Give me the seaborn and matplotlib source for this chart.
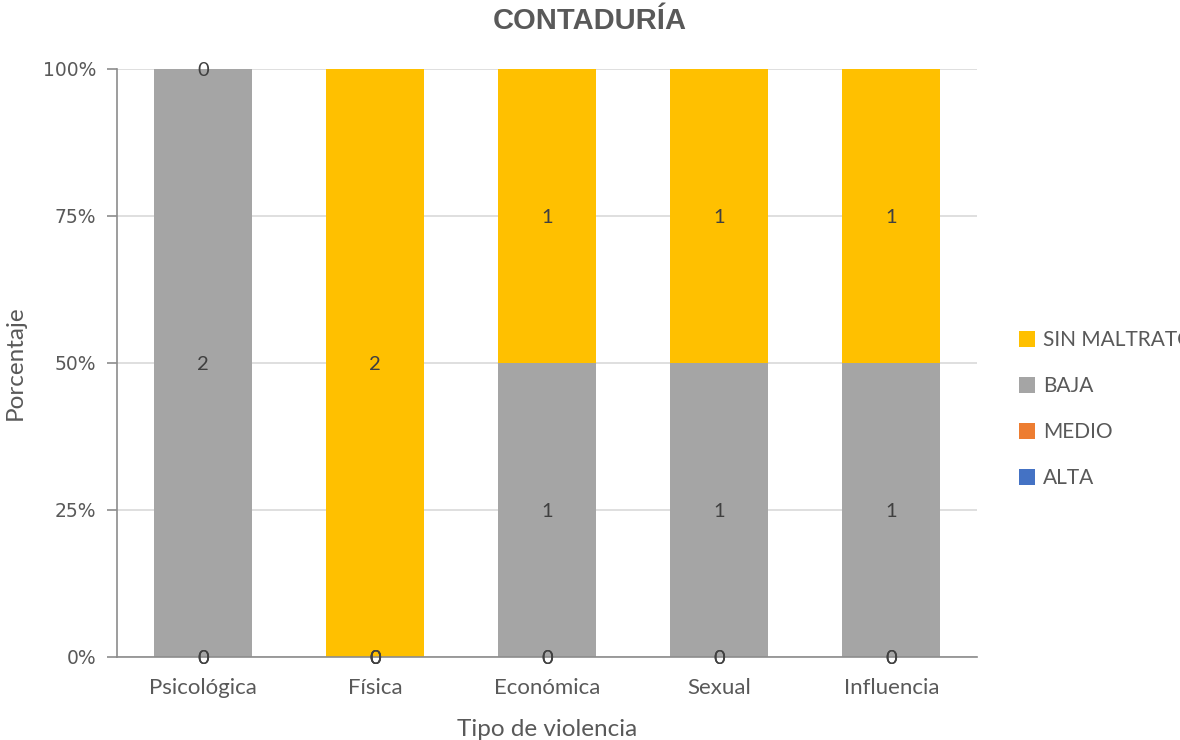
import numpy as np
import pandas as pd
import matplotlib
matplotlib.use("Agg")
import matplotlib.pyplot as plt
from matplotlib.patches import Patch
from matplotlib.ticker import PercentFormatter
import seaborn as sns

# Counts per violence type, stacked bottom-to-top: ALTA, MEDIO, BAJA, SIN MALTRATO
categories = ["Psicológica", "Física", "Económica", "Sexual", "Influencia"]
alta = [0, 0, 0, 0, 0]
medio = [0, 0, 0, 0, 0]
baja = [2, 0, 1, 1, 1]
sin_maltrato = [0, 2, 1, 1, 1]

series_names = ["ALTA", "MEDIO", "BAJA", "SIN MALTRATO"]
series_colors = ["#4472C4", "#ED7D31", "#A5A5A5", "#FFC000"]

df = pd.DataFrame({"ALTA": alta, "MEDIO": medio, "BAJA": baja,
                   "SIN MALTRATO": sin_maltrato}, index=categories)
share = df.div(df.sum(axis=1), axis=0)
cum = share.cumsum(axis=1)
lower = cum - share

sns.set_theme(style="white")
plt.rcParams["font.family"] = ["DejaVu Sans"]

fig = plt.figure(figsize=(11.8, 7.4), dpi=100)
ax = fig.add_axes([0.0992, 0.1122, 0.7290, 0.7946])

# cumulative bars, top series first so lower series sit over them
for name, color in reversed(list(zip(series_names, series_colors))):
    sns.barplot(x=categories, y=cum[name].values, color=color, width=0.57,
                saturation=1, ax=ax, zorder=2, edgecolor="none")

# value labels at the middle of each segment
for i, cat in enumerate(categories):
    for name in series_names:
        ymid = lower.loc[cat, name] + share.loc[cat, name] / 2
        ax.text(i, ymid, f"{df.loc[cat, name]}", ha="center",
                va="center_baseline", fontsize=14.5, color="#404040",
                family="Lato", zorder=5)

ax.set_xlim(-0.5, 4.5)
ax.set_ylim(0, 1)
ax.yaxis.set_major_formatter(PercentFormatter(1.0, decimals=0))
ax.set_yticks([0, 0.25, 0.5, 0.75, 1.0])
ax.yaxis.grid(True, color="#D9D9D9", linewidth=1.2, zorder=0)
ax.set_axisbelow(True)

for side in ["top", "right"]:
    ax.spines[side].set_visible(False)
ax.spines["left"].set_color("#8C8C8C")
ax.spines["bottom"].set_color("#8C8C8C")
ax.spines["left"].set_linewidth(1.2)
ax.spines["bottom"].set_linewidth(1.2)

ax.tick_params(axis="y", left=True, length=7, width=1.2, color="#8C8C8C",
               labelsize=13.5, labelcolor="#595959", pad=8)
ax.tick_params(axis="x", bottom=False, labelsize=16, labelcolor="#595959", pad=9)
for lbl in ax.get_xticklabels():
    lbl.set_family("Lato")

ax.set_xlabel("Tipo de violencia", fontsize=17.5, color="#595959", family="Lato",
              labelpad=15)
ax.set_ylabel("Porcentaje", fontsize=17.5, color="#595959", family="Lato",
              labelpad=12)

fig.text(0.5, 0.972, "CONTADURÍA", ha="center", va="center", fontsize=21,
         fontweight="bold", color="#595959", family="Liberation Sans")

handles = [Patch(facecolor=c, edgecolor="none", label=n)
           for n, c in zip(series_names, series_colors)][::-1]
fig.legend(handles=handles, loc="center left", bbox_to_anchor=(0.848, 0.447),
           frameon=False, prop={"family": "Lato", "size": 15},
           labelcolor="#595959", handlelength=0.75, handleheight=0.75,
           handletextpad=0.4, labelspacing=1.25)

fig.savefig("out.png", dpi=100)
